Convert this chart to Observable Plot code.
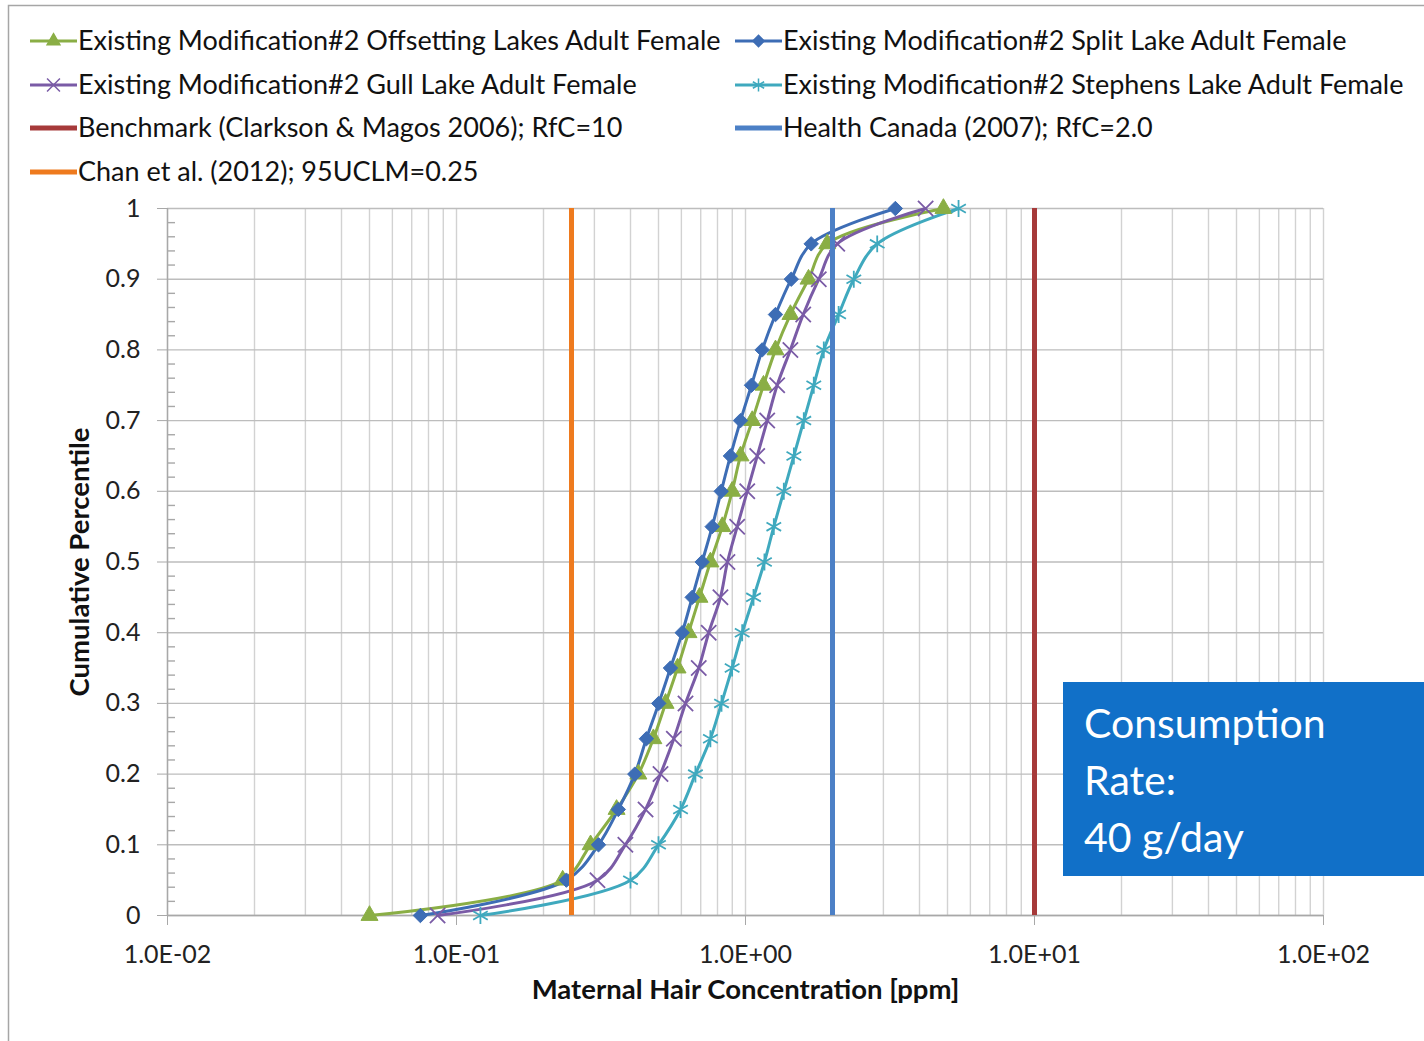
<!DOCTYPE html>
<html><head><meta charset="utf-8">
<script src="https://cdn.jsdelivr.net/npm/d3@7"></script>
<script src="https://cdn.jsdelivr.net/npm/@observablehq/plot@0.6"></script>
<style>
body{margin:0;background:#fff;}
#chart{position:relative;width:1424px;height:1041px;overflow:hidden;}
#box{position:absolute;left:1063px;top:682px;width:361px;height:194px;background:#1170C8;color:#fff;font-family:Lato,"Open Sans",sans-serif;font-size:41px;line-height:57px;padding:12px 0 0 21px;box-sizing:border-box;}
</style>
</head><body>
<div id="chart"></div>
<script>
// ---- data ----
const levels = [0,0.05,0.1,0.15,0.2,0.25,0.3,0.35,0.4,0.45,0.5,0.55,0.6,0.65,0.7,0.75,0.8,0.85,0.9,0.95,1];
const offsetting = [0.050,0.233,0.291,0.358,0.426,0.480,0.529,0.582,0.635,0.693,0.756,0.831,0.899,0.961,1.055,1.154,1.27,1.43,1.652,1.918,4.84];
const split      = [0.075,0.240,0.310,0.363,0.414,0.454,0.501,0.550,0.604,0.654,0.708,0.767,0.824,0.887,0.961,1.049,1.142,1.27,1.44,1.688,3.30];
const gull       = [0.086,0.3075,0.384,0.451,0.508,0.565,0.620,0.689,0.746,0.819,0.866,0.936,1.014,1.098,1.189,1.287,1.43,1.584,1.793,2.077,4.20];
const stephens   = [0.121,0.40,0.50,0.596,0.671,0.756,0.826,0.899,0.974,1.066,1.163,1.253,1.357,1.47,1.591,1.723,1.866,2.10,2.37,2.856,5.46];
const seriesNames = [
  "Existing Modification#2 Offsetting Lakes Adult Female",
  "Existing Modification#2 Split Lake Adult Female",
  "Existing Modification#2 Gull Lake Adult Female",
  "Existing Modification#2 Stephens Lake Adult Female"
];
const refNames = ["Benchmark (Clarkson & Magos 2006); RfC=10","Health Canada (2007); RfC=2.0","Chan et al. (2012); 95UCLM=0.25"];
const refValues = [10, 2.0, 0.25];
const xTicks = [0.01,0.1,1,10,100];
const xTickLabels = ["1.0E-02","1.0E-01","1.0E+00","1.0E+01","1.0E+02"];
const yTicks = [0,0.1,0.2,0.3,0.4,0.5,0.6,0.7,0.8,0.9,1];
const yTickLabels = ["0","0.1","0.2","0.3","0.4","0.5","0.6","0.7","0.8","0.9","1"];
const xLabel = "Maternal Hair Concentration [ppm]";
const yLabel = "Cumulative Percentile";
const boxLines = ["Consumption","Rate:","40 g/day"];

// ---- styles ----
const seriesColors = ["#8AAE45","#3D6DB5","#7A5BA6","#3FA9BE"];
const seriesSymbols = ["triangle","diamond2","times","asterisk"];
const seriesR = [6.3,6.5,7,8];
const refColors = ["#A63A3A","#4C80C6","#EE7A1E"];

const seriesData = [offsetting, split, gull, stephens].map((vals, i) =>
  vals.map((v, j) => ({x: v, y: levels[j], s: i})));

// grid positions (structural)
const vGrid = [];
for (let e = -2; e < 2; e++) for (let m = 1; m <= 9; m++) vGrid.push(m * Math.pow(10, e));
vGrid.push(100);
const minorY = [];
for (let k = 0; k < 50; k++) if (k % 5 !== 0) minorY.push(k / 50);

const W = 1424, H = 1041, mL = 167, mR = 101, mT = 208, mB = 126;
const plotW = W - mL - mR;
const FONT = "Lato, 'Open Sans', sans-serif";

const marks = [
  Plot.ruleX(vGrid, {stroke: "#d2d2d2", strokeWidth: 1.4}),
  Plot.ruleY(yTicks, {stroke: "#bdbdbd", strokeWidth: 1.4}),
  Plot.ruleY(minorY, {stroke: "#a8a8a8", strokeWidth: 1.4, insetRight: plotW - 8}),
  Plot.ruleX([0.01], {stroke: "#a8a8a8", strokeWidth: 1.4}),
  Plot.ruleY([0], {stroke: "#a8a8a8", strokeWidth: 1.4}),
  Plot.axisY({ticks: yTicks, tickSize: 10, tickPadding: 17, tickFormat: (d) => yTickLabels[yTicks.indexOf(d)], fontSize: 25, stroke: "#a8a8a8", fill: "#222", label: null}),
  Plot.axisX({ticks: xTicks, tickSize: 10, tickPadding: 20, tickFormat: (d) => xTickLabels[xTicks.findIndex(t => Math.abs(t - d) / t < 1e-9)], fontSize: 25, stroke: "#a8a8a8", fill: "#222", label: null}),
];
seriesData.forEach((data, i) => {
  marks.push(Plot.line(data, {x: "x", y: "y", stroke: seriesColors[i], strokeWidth: 3, curve: "catmull-rom"}));
});
seriesData.forEach((data, i) => {
  const filled = i < 2;
  marks.push(Plot.dot(data, {x: "x", y: "y", symbol: seriesSymbols[i], r: seriesR[i],
    fill: filled ? seriesColors[i] : "none", stroke: seriesColors[i], strokeWidth: filled ? 1 : 1.8}));
});
refValues.forEach((v, i) => {
  marks.push(Plot.ruleX([v], {stroke: refColors[i], strokeWidth: 5}));
});
marks.push(Plot.text([xLabel], {text: d => d, frameAnchor: "bottom", textAnchor: "middle", dy: 83, fontSize: 27.5, fontWeight: "bold", fill: "#111"}));
marks.push(Plot.text([yLabel], {text: d => d, frameAnchor: "left", textAnchor: "middle", dx: -87, rotate: -90, fontSize: 27.5, fontWeight: "bold", fill: "#111"}));

const plot = Plot.plot({
  width: W, height: H,
  marginLeft: mL, marginRight: mR, marginTop: mT, marginBottom: mB,
  style: {fontFamily: FONT, background: "#fff", overflow: "visible"},
  x: {type: "log", domain: [0.01, 100], axis: null},
  y: {domain: [0, 1], axis: null},
  marks
});

const svg = d3.select(plot);
// outer frame
svg.insert("rect", ":first-child").attr("x", 8.5).attr("y", 5.5).attr("width", W + 20).attr("height", H + 20)
  .attr("fill", "none").attr("stroke", "#a6a6a6").attr("stroke-width", 1.5);

// legend
const legendItems = [
  {name: seriesNames[0], color: seriesColors[0], sym: d3.symbolTriangle, filled: true, size: 70, col: 0, row: 0},
  {name: seriesNames[1], color: seriesColors[1], sym: d3.symbolDiamond2, filled: true, size: 80, col: 1, row: 0},
  {name: seriesNames[2], color: seriesColors[2], sym: d3.symbolTimes, filled: false, size: 110, col: 0, row: 1},
  {name: seriesNames[3], color: seriesColors[3], sym: d3.symbolAsterisk, filled: false, size: 120, col: 1, row: 1},
  {name: refNames[0], color: refColors[0], sym: null, col: 0, row: 2},
  {name: refNames[1], color: refColors[1], sym: null, col: 1, row: 2},
  {name: refNames[2], color: refColors[2], sym: null, col: 0, row: 3},
];
const colX = [30, 735];
const rowY = [41, 85, 128, 172];
const lg = svg.append("g").attr("font-family", FONT).attr("font-size", 27).attr("fill", "#111").attr("text-anchor", "start");
legendItems.forEach(it => {
  const x0 = colX[it.col], y0 = rowY[it.row];
  lg.append("line").attr("x1", x0).attr("x2", x0 + 47).attr("y1", y0).attr("y2", y0)
    .attr("stroke", it.color).attr("stroke-width", it.sym ? 3 : 5);
  if (it.sym) {
    lg.append("path").attr("d", d3.symbol(it.sym, it.size)()).attr("transform", `translate(${x0 + 23.5},${y0})`)
      .attr("fill", it.filled ? it.color : "none").attr("stroke", it.color).attr("stroke-width", 1.5);
  }
  lg.append("text").attr("x", x0 + 48).attr("y", y0 + 9).attr("text-anchor", "start").text(it.name);
});

const chart = document.getElementById("chart");
chart.appendChild(plot);
const box = document.createElement("div");
box.id = "box";
box.innerHTML = boxLines.map(l => `<div>${l}</div>`).join("");
chart.appendChild(box);
plot.style.position = "absolute"; plot.style.left = "0"; plot.style.top = "0";
</script>
</body></html>
